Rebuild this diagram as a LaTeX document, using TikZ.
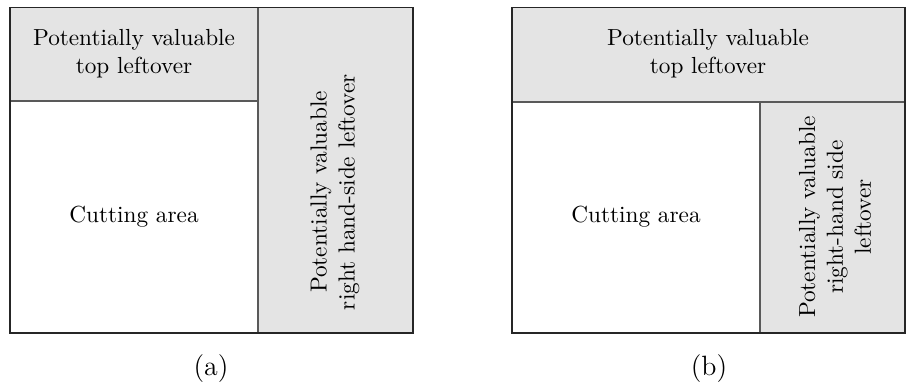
\documentclass[tikz,border=0pt]{standalone}
\begin{document}
\begin{tikzpicture}[x=0.43pt,y=-0.43pt,
  leftover/.style={fill=black!10.5,draw=none},
  divider/.style={draw=black!65,line width=0.45pt},
  border/.style={draw=black!85,line width=0.8pt},
  lbl/.style={align=center,inner sep=0pt,font=\normalsize},
  caplbl/.style={inner sep=0pt,font=\large}]
\useasboundingbox (0,0) rectangle (906,387);
% (a)
\fill[leftover] (10,7.5) rectangle (258,101);
\fill[leftover] (258,7.5) rectangle (413,333);
\draw[divider] (258,7.5) -- (258,333);
\draw[divider] (10,101) -- (258,101);
\draw[border] (10,7.5) rectangle (413,333);
\node[lbl] (atop) at (134,54) {Potentially valuable\\top leftover};
\node[lbl,rotate=90] (aright) at (335,192) {Potentially valuable\\right hand-side leftover};
\node[lbl] (acut) at (134,217) {Cutting area};
\node[caplbl] (acap) at (211,369) {(a)};
% (b)
\fill[leftover] (512,7.5) rectangle (905,102);
\fill[leftover] (760,102) rectangle (905,333);
\draw[divider] (512,102) -- (905,102);
\draw[divider] (760,102) -- (760,333);
\draw[border] (512,7.5) rectangle (905,333);
\node[lbl] (btop) at (708,54) {Potentially valuable\\top leftover};
\node[lbl,rotate=90] (bright) at (835,217) {Potentially valuable\\right-hand side\\leftover};
\node[lbl] (bcut) at (636,217) {Cutting area};
\node[caplbl] (bcap) at (709,369) {(b)};
\end{tikzpicture}
\end{document}
